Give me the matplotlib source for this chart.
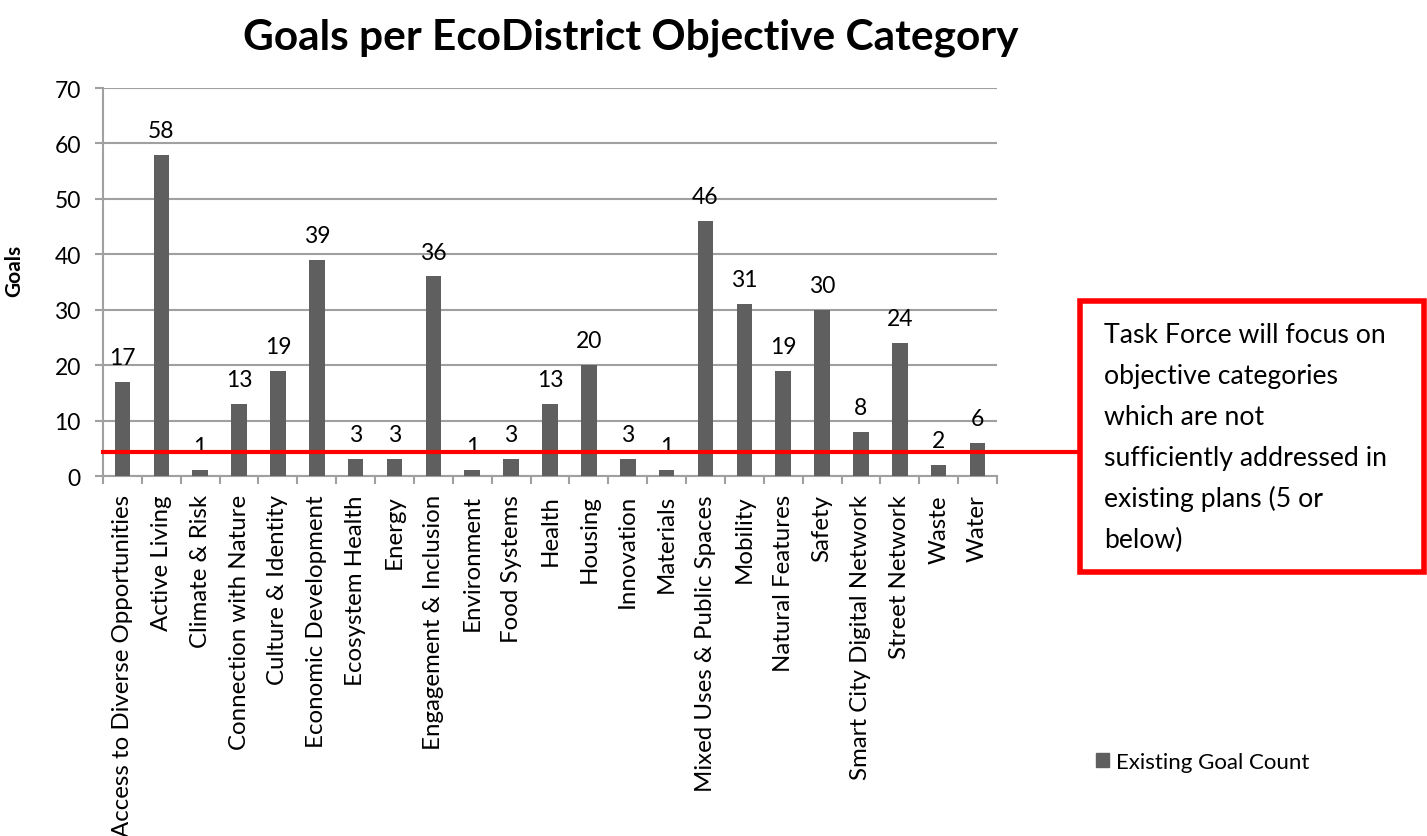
import matplotlib
matplotlib.use("Agg")
import matplotlib.pyplot as plt
import matplotlib.transforms as mtransforms
from matplotlib.patches import Rectangle, Patch
import numpy as np

plt.rcParams['font.family'] = ['Lato', 'DejaVu Sans']

categories = [
    "Access to Diverse Opportunities", "Active Living", "Climate & Risk",
    "Connection with Nature", "Culture & Identity", "Economic Development",
    "Ecosystem Health", "Energy", "Engagement & Inclusion", "Environment",
    "Food Systems", "Health", "Housing", "Innovation", "Materials",
    "Mixed Uses & Public Spaces", "Mobility", "Natural Features", "Safety",
    "Smart City Digital Network", "Street Network", "Waste", "Water",
]
goal_counts = [17, 58, 1, 13, 19, 39, 3, 3, 36, 1, 3, 13, 20, 3, 1, 46, 31, 19, 30, 8, 24, 2, 6]
threshold = 4.4
series_name = "Existing Goal Count"
title = "Goals per EcoDistrict Objective Category"
note_lines = [
    "Task Force will focus on",
    "objective categories",
    "which are not",
    "sufficiently addressed in",
    "existing plans (5 or",
    "below)",
]

W, H = 1427, 837
bar_color = "#5f5f5f"
grid_color = "#a0a0a0"

fig = plt.figure(figsize=(W / 100, H / 100), dpi=100)
ax = fig.add_axes([103 / W, 1 - 477 / H, (997 - 103) / W, (477 - 89) / H])

x = np.arange(len(categories))
bars = ax.bar(x, goal_counts, width=0.4, color=bar_color, zorder=3)
ax.bar_label(bars, padding=10, fontsize=16.5)

ax.set_xlim(-0.5, len(categories) - 0.5)
ax.set_ylim(0, 70)
ax.set_yticks(range(0, 71, 10))
ax.yaxis.grid(True, color=grid_color, linewidth=1.5, zorder=0)
ax.set_axisbelow(True)

ax.set_xticks(x)
ax.set_xticklabels(categories, rotation=90, fontsize=17.3)
ax.set_xticks(np.arange(-0.5, len(categories), 1), minor=True)
ax.tick_params(axis='x', which='major', length=0, pad=13)
ax.tick_params(axis='x', which='minor', length=6, width=1.5, color=grid_color)
ax.tick_params(axis='y', length=6, width=1.5, color=grid_color, pad=10, labelsize=16.5)

for side in ['top', 'right']:
    ax.spines[side].set_visible(False)
for side in ['left', 'bottom']:
    ax.spines[side].set_color(grid_color)
    ax.spines[side].set_linewidth(1.5)

ax.set_ylabel("Goals", fontsize=15, fontweight='bold')
ax.yaxis.set_label_coords((24 - 103) / (997 - 103), 0.53)

# red threshold line running out to the note box
trans = mtransforms.blended_transform_factory(ax.transAxes, ax.transData)
x_end = (1080 - 103) / (997 - 103)
ax.plot([0, x_end], [threshold, threshold], color="#ff0000", linewidth=3,
        transform=trans, clip_on=False, zorder=4)

fig.patches.append(Rectangle((1080 / W, 1 - 573 / H), (1424 - 1080) / W, (573 - 302) / H,
                             transform=fig.transFigure, fill=False,
                             edgecolor="#ff0000", linewidth=4))
for i, line in enumerate(note_lines):
    fig.text(1104 / W, 1 - (343 + 41 * i) / H, line, fontsize=19.2,
             ha='left', va='baseline')

fig.text(631 / W, 1 - 38 / H, title, fontsize=30.5, fontweight='bold',
         ha='center', va='center')

fig.legend(handles=[Patch(color=bar_color, label=series_name)],
           loc='center left', bbox_to_anchor=(1076 / W, 1 - 763 / H),
           frameon=False, fontsize=16, handlelength=0.6, handleheight=0.6,
           handletextpad=0.3)

fig.savefig("out.png", dpi=100)
